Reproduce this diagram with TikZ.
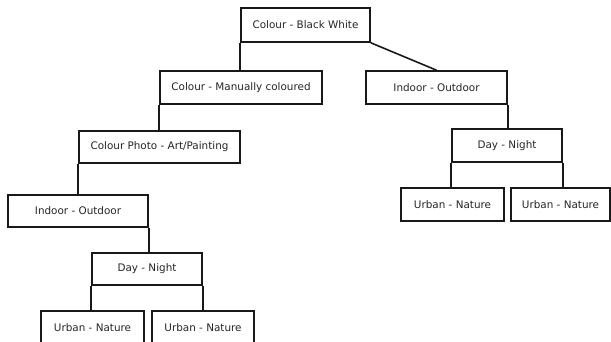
\documentclass[tikz,border=0pt]{standalone}
\usepackage{fontspec}
\setmainfont{DejaVu Sans}
\begin{document}
\begin{tikzpicture}[x=1pt,y=-1pt,
  box/.style={draw=black!90,line width=1.6pt,fill=white,inner sep=0pt,font=\fontsize{10.4}{12}\selectfont,text=black!85},
  conn/.style={draw=black!90,line width=1.6pt}]
\clip (0,0) rectangle (611,342);
\useasboundingbox (0,0) rectangle (611,342);
\node[box,minimum width=129pt,minimum height=34pt] (A) at (305.5,25) {Colour - Black White};
\node[box,minimum width=162pt,minimum height=33pt] (B) at (241,87.5) {Colour - Manually coloured};
\node[box,minimum width=141pt,minimum height=33pt] (C) at (436.5,87.5) {Indoor - Outdoor};
\node[box,minimum width=161pt,minimum height=32pt] (D) at (159.5,147) {Colour Photo - Art/Painting};
\node[box,minimum width=140pt,minimum height=32pt] (E) at (78,211) {Indoor - Outdoor};
\node[box,minimum width=110pt,minimum height=32pt] (F) at (147,269) {Day - Night};
\node[box,minimum width=103pt,minimum height=33pt] (G) at (92.5,327.5) {Urban - Nature};
\node[box,minimum width=102pt,minimum height=33pt] (H) at (203,327.5) {Urban - Nature};
\node[box,minimum width=110pt,minimum height=33pt] (I) at (507,145.5) {Day - Night};
\node[box,minimum width=103pt,minimum height=33pt] (J) at (452.5,204.5) {Urban - Nature};
\node[box,minimum width=99pt,minimum height=33pt] (K) at (560.5,204.5) {Urban - Nature};
\draw[conn] (A.south west) -- (A.south west |- B.north);
\draw[conn] (A.south east) -- (C.north);
\draw[conn] (B.south west) -- (B.south west |- D.north);
\draw[conn] (D.south west) -- (D.south west |- E.north);
\draw[conn] (E.south east) -- (E.south east |- F.north);
\draw[conn] (F.south west) -- (F.south west |- G.north);
\draw[conn] (F.south east) -- (F.south east |- H.north);
\draw[conn] (C.south east) -- (C.south east |- I.north);
\draw[conn] (I.south west) -- (I.south west |- J.north);
\draw[conn] (I.south east) -- (I.south east |- K.north);
\end{tikzpicture}
\end{document}
